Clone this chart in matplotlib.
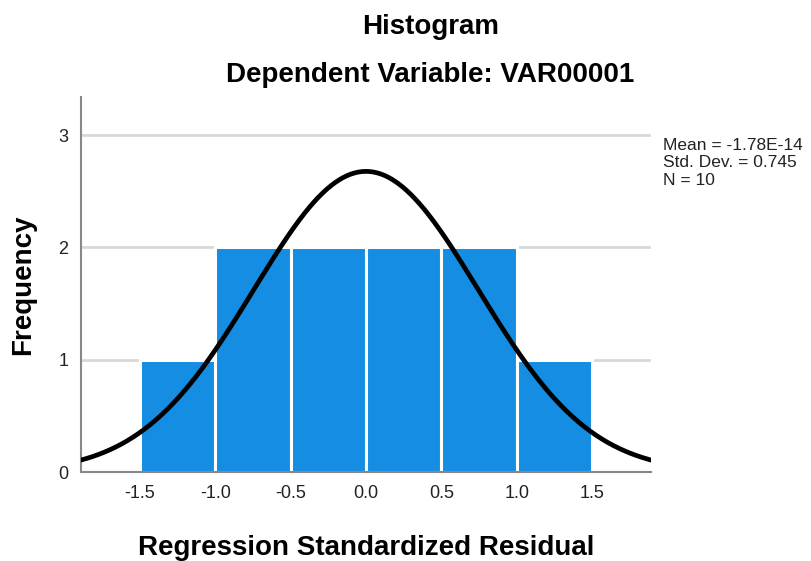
import numpy as np
import matplotlib
matplotlib.use("Agg")
import matplotlib.pyplot as plt

plt.rcParams['font.family'] = ['Liberation Sans', 'DejaVu Sans']

# Data
bin_edges = [-1.5, -1.0, -0.5, 0.0, 0.5, 1.0, 1.5]
counts = [1, 2, 2, 2, 2, 1]
mean_val = -1.78e-14
std_val = 0.745
n_val = 10
xticks = [-1.5, -1.0, -0.5, 0.0, 0.5, 1.0, 1.5]
xtick_labels = ["-1.5", "-1.0", "-0.5", "0.0", "0.5", "1.0", "1.5"]
yticks = [0, 1, 2, 3]

fig = plt.figure(figsize=(8.12, 5.61), dpi=100)
ax = fig.add_axes([0.0998, 0.1586, 0.7019, 0.6685])

lefts = bin_edges[:-1]
widths = np.diff(bin_edges)
ax.bar(lefts, counts, width=widths, align='edge', color='#148de3',
       edgecolor='white', linewidth=2.2, zorder=2)

binw = widths[0]
xs = np.linspace(-1.9, 1.9, 400)
ys = n_val * binw * np.exp(-0.5 * ((xs - mean_val) / std_val) ** 2) / (std_val * np.sqrt(2 * np.pi))
ax.plot(xs, ys, color='black', linewidth=3.4, zorder=3)

ax.set_xlim(-1.8916, 1.8916)
ax.set_ylim(0, 3.34)
ax.set_yticks(yticks)
ax.set_xticks(xticks)
ax.set_xticklabels(xtick_labels)
ax.tick_params(axis='both', length=0, labelsize=13, colors='#222222')
ax.tick_params(axis='x', pad=9)
ax.tick_params(axis='y', pad=9)
ax.grid(axis='y', color='#d9d9d9', linewidth=2, zorder=0)
ax.set_axisbelow(True)
for s in ['top', 'right']:
    ax.spines[s].set_visible(False)
for s in ['left', 'bottom']:
    ax.spines[s].set_color('#888888')
    ax.spines[s].set_linewidth(1.5)

ax.set_xlabel('Regression Standardized Residual', fontsize=20, fontweight='bold', labelpad=24)
ax.set_ylabel('Frequency', fontsize=20, fontweight='bold', labelpad=16)

fig.text(0.530, 0.952, 'Histogram', fontsize=20, fontweight='bold', ha='center', va='center')
fig.text(0.530, 0.866, 'Dependent Variable: VAR00001', fontsize=20, fontweight='bold', ha='center', va='center')

fig.text(0.817, 0.754, 'Mean = -1.78E-14\nStd. Dev. = 0.745\nN = 10',
         fontsize=12.5, ha='left', va='top', linespacing=1.2, color='#222222')

fig.savefig('out.png', dpi=100)
